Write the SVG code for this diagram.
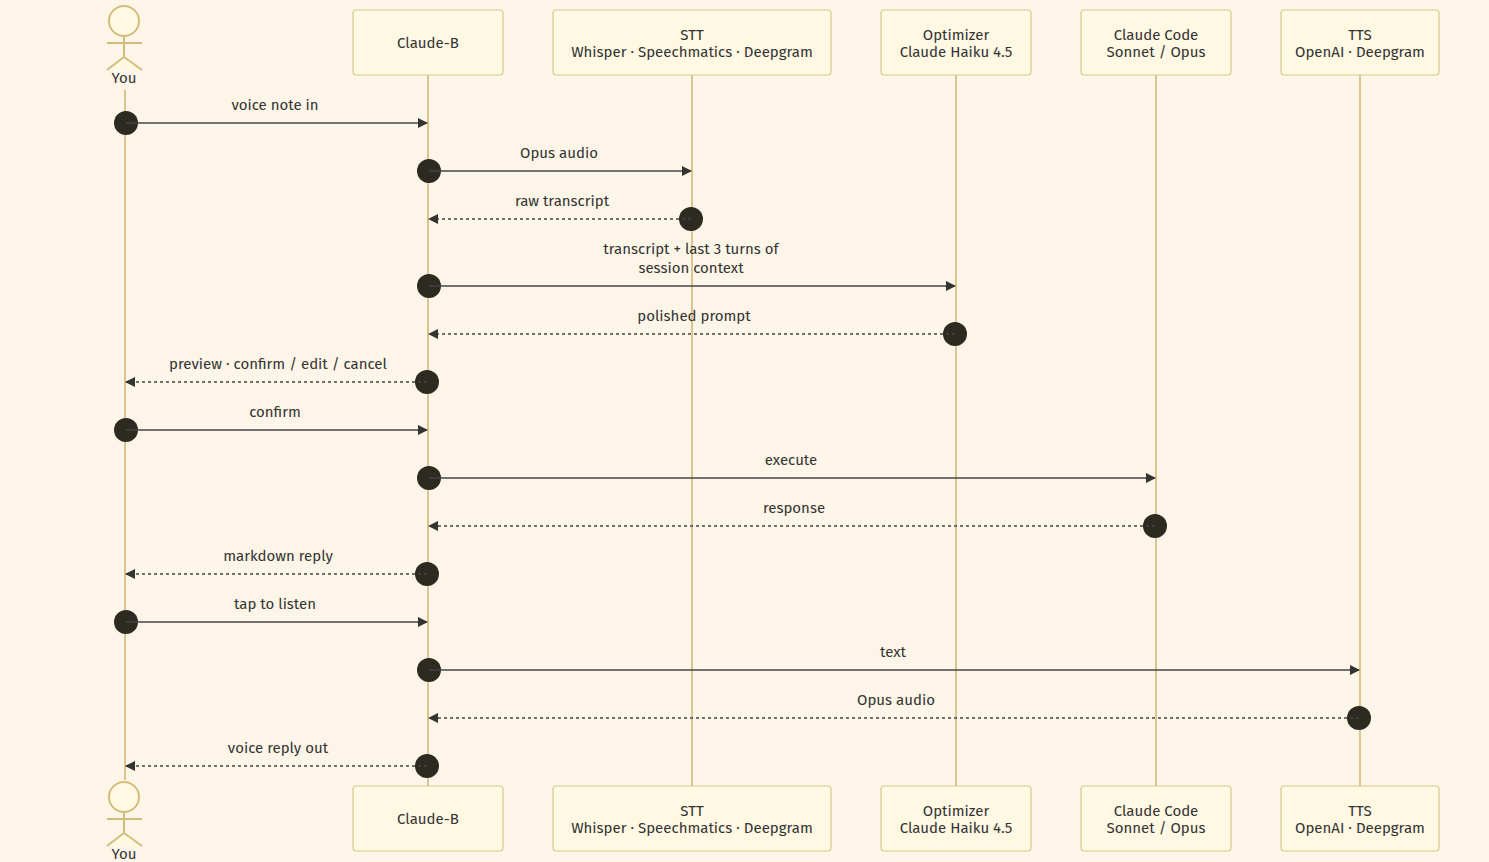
<svg xmlns="http://www.w3.org/2000/svg" width="1489" height="862" viewBox="0 0 1489 862">
<defs>
<style>
text{font-family:"Fira Sans","Noto Sans","Open Sans",sans-serif;font-size:15px;fill:#333;text-anchor:middle}
.box{fill:#fff8e3;stroke:#d8c98f;stroke-width:1.2}
.life{stroke:#ccb56f;stroke-width:1.5}
.act{fill:#fff8e3;stroke:#d2be7a;stroke-width:2}
.msg{stroke:#444;stroke-width:1.5;fill:none;marker-end:url(#ah)}
.ret{stroke-dasharray:3,3}
.dot{fill:#2d2a22}
</style>
<marker id="ah" markerWidth="10" markerHeight="10" refX="9" refY="5" orient="auto" markerUnits="userSpaceOnUse"><path d="M0,0L10,5L0,10z" fill="#333"/></marker>
</defs>
<rect width="1489" height="862" fill="#fdf6e8"/>
<g id="lifelines">
<line class="life" x1="125" y1="90" x2="125" y2="780"/>
<line class="life" x1="428" y1="75" x2="428" y2="786"/>
<line class="life" x1="692" y1="75" x2="692" y2="786"/>
<line class="life" x1="956" y1="75" x2="956" y2="786"/>
<line class="life" x1="1156" y1="75" x2="1156" y2="786"/>
<line class="life" x1="1360" y1="75" x2="1360" y2="786"/>
</g>
<g id="you">
<circle class="act" cx="124" cy="21" r="15"/><path class="act" d="M124 36V57M107 43H142M107 70L124 57L142 70" fill="none"/>
<text x="124" y="83">You</text>
<circle class="act" cx="124" cy="797" r="15"/><path class="act" d="M124 812V833M107 819H142M107 846L124 833L142 846" fill="none"/>
<text x="124" y="859">You</text>
</g>
<g id="claudeb"><rect class="box" x="353" y="10" width="150" height="65" rx="3"/><text x="428" y="48">Claude-B</text>
<rect class="box" x="353" y="786" width="150" height="65" rx="3"/><text x="428" y="824">Claude-B</text></g>
<g id="stt"><rect class="box" x="553" y="10" width="278" height="65" rx="3"/><text x="692" y="40">STT</text><text x="692" y="57">Whisper · Speechmatics · Deepgram</text>
<rect class="box" x="553" y="786" width="278" height="65" rx="3"/><text x="692" y="816">STT</text><text x="692" y="833">Whisper · Speechmatics · Deepgram</text></g>
<g id="optimizer"><rect class="box" x="881" y="10" width="150" height="65" rx="3"/><text x="956" y="40">Optimizer</text><text x="956" y="57">Claude Haiku 4.5</text>
<rect class="box" x="881" y="786" width="150" height="65" rx="3"/><text x="956" y="816">Optimizer</text><text x="956" y="833">Claude Haiku 4.5</text></g>
<g id="claudecode"><rect class="box" x="1081" y="10" width="150" height="65" rx="3"/><text x="1156" y="40">Claude Code</text><text x="1156" y="57">Sonnet / Opus</text>
<rect class="box" x="1081" y="786" width="150" height="65" rx="3"/><text x="1156" y="816">Claude Code</text><text x="1156" y="833">Sonnet / Opus</text></g>
<g id="tts"><rect class="box" x="1281" y="10" width="158" height="65" rx="3"/><text x="1360" y="40">TTS</text><text x="1360" y="57">OpenAI · Deepgram</text>
<rect class="box" x="1281" y="786" width="158" height="65" rx="3"/><text x="1360" y="816">TTS</text><text x="1360" y="833">OpenAI · Deepgram</text></g>
<g id="connectors">
<circle class="dot" cx="126" cy="123" r="12"/><line class="msg" x1="126" y1="123" x2="427" y2="123"/><text x="275" y="110">voice note in</text>
<circle class="dot" cx="429" cy="171" r="12"/><line class="msg" x1="429" y1="171" x2="691" y2="171"/><text x="559" y="158">Opus audio</text>
<circle class="dot" cx="691" cy="219" r="12"/><line class="msg ret" x1="691" y1="219" x2="429" y2="219"/><text x="562" y="206">raw transcript</text>
<circle class="dot" cx="429" cy="286" r="12"/><line class="msg" x1="429" y1="286" x2="955" y2="286"/><text x="691" y="254">transcript + last 3 turns of</text><text x="691" y="273">session context</text>
<circle class="dot" cx="955" cy="334" r="12"/><line class="msg ret" x1="955" y1="334" x2="429" y2="334"/><text x="694" y="321">polished prompt</text>
<circle class="dot" cx="427" cy="382" r="12"/><line class="msg ret" x1="427" y1="382" x2="126" y2="382"/><text x="278" y="369">preview · confirm / edit / cancel</text>
<circle class="dot" cx="126" cy="430" r="12"/><line class="msg" x1="126" y1="430" x2="427" y2="430"/><text x="275" y="417">confirm</text>
<circle class="dot" cx="429" cy="478" r="12"/><line class="msg" x1="429" y1="478" x2="1155" y2="478"/><text x="791" y="465">execute</text>
<circle class="dot" cx="1155" cy="526" r="12"/><line class="msg ret" x1="1155" y1="526" x2="429" y2="526"/><text x="794" y="513">response</text>
<circle class="dot" cx="427" cy="574" r="12"/><line class="msg ret" x1="427" y1="574" x2="126" y2="574"/><text x="278" y="561">markdown reply</text>
<circle class="dot" cx="126" cy="622" r="12"/><line class="msg" x1="126" y1="622" x2="427" y2="622"/><text x="275" y="609">tap to listen</text>
<circle class="dot" cx="429" cy="670" r="12"/><line class="msg" x1="429" y1="670" x2="1359" y2="670"/><text x="893" y="657">text</text>
<circle class="dot" cx="1359" cy="718" r="12"/><line class="msg ret" x1="1359" y1="718" x2="429" y2="718"/><text x="896" y="705">Opus audio</text>
<circle class="dot" cx="427" cy="766" r="12"/><line class="msg ret" x1="427" y1="766" x2="126" y2="766"/><text x="278" y="753">voice reply out</text>
</g>
</svg>
